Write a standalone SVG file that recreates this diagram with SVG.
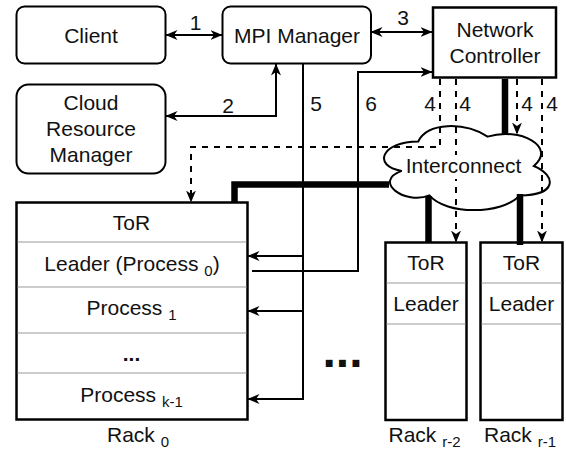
<svg xmlns="http://www.w3.org/2000/svg" width="566" height="451" viewBox="0 0 566 451">
  <style>
    text { font-family: "Liberation Sans", Arial, sans-serif; font-size: 21px; fill: #111; }
    .c { text-anchor: middle; }
    .sub { font-size: 15px; }
    .big { font-size: 48px; font-weight: bold; }
    .box { fill: #fff; stroke: #000; stroke-width: 2; }
    .rack { fill: #fff; stroke: #000; stroke-width: 2.5; }
    .div { stroke: #999; stroke-width: 1.2; fill: none; }
    .ln { fill: none; stroke: #000; stroke-width: 2; }
    .dash { fill: none; stroke: #000; stroke-width: 2; stroke-dasharray: 6 6; }
    .thick { fill: none; stroke: #000; stroke-width: 6.5; }
  </style>
  <defs>
    <marker id="arr" viewBox="0 0 12 10" refX="11.5" refY="5" markerWidth="12" markerHeight="10" markerUnits="userSpaceOnUse" orient="auto-start-reverse">
      <path d="M0,0 L12,5 L0,10 L3.5,5 Z" fill="#000"/>
    </marker>
  </defs>

  <rect width="566" height="451" fill="#fff"/>

  <!-- nodes -->
  <g id="client">
    <rect class="box" x="16.5" y="6.5" width="149" height="57" rx="8"/>
    <text class="c" x="91" y="43">Client</text>
  </g>
  <g id="mpi-manager">
    <rect class="box" x="222.5" y="6.5" width="148.5" height="57" rx="8"/>
    <text class="c" x="297" y="43">MPI Manager</text>
  </g>
  <g id="cloud-resource-manager">
    <rect class="box" x="16.5" y="84.5" width="149" height="89" rx="12"/>
    <text class="c" x="91" y="110">Cloud</text>
    <text class="c" x="91" y="136">Resource</text>
    <text class="c" x="91" y="162">Manager</text>
  </g>
  <g id="network-controller">
    <rect x="433" y="7.5" width="123" height="70" fill="#fff" stroke="#000" stroke-width="2.5"/>
    <text class="c" x="495" y="37">Network</text>
    <text class="c" x="495" y="63">Controller</text>
  </g>

  <g id="interconnect">
    <path d="M418.25,141.5 C381.25,141.5 372,166 401.6,170.9 C372,181.7 405.3,205.2 429.35,195.4 C446,215 501.5,215 520,195.4 C557,195.4 557,175.8 533.9,166 C557,146.4 520,126.8 487.6,136.6 C464.5,121.9 427.5,121.9 418.25,141.5 Z" fill="#fff" stroke="#000" stroke-width="2"/>
  </g>

  <g id="rack-0">
    <rect class="rack" x="16.5" y="202.5" width="231" height="217"/>
    <path class="div" d="M17.5,242 H246.5 M17.5,287 H246.5 M17.5,333 H246.5 M17.5,373 H246.5"/>
    <text class="c" x="131.5" y="230">ToR</text>
    <text class="c" x="132" y="271">Leader (Process <tspan class="sub" dy="5">0</tspan><tspan dy="-5">)</tspan></text>
    <text class="c" x="131.5" y="315">Process <tspan class="sub" dy="5">1</tspan></text>
    <text class="c" x="131.5" y="361" font-weight="bold">...</text>
    <text class="c" x="131.5" y="402">Process <tspan class="sub" dy="5">k-1</tspan></text>
    <text class="c" x="138" y="442">Rack <tspan class="sub" dy="5">0</tspan></text>
  </g>

  <g id="rack-r-2">
    <rect class="rack" x="385.5" y="242.5" width="81" height="177.5"/>
    <path class="div" d="M386.5,283 H465.5 M386.5,324 H465.5"/>
    <text class="c" x="426" y="270">ToR</text>
    <text class="c" x="426" y="311">Leader</text>
    <text class="c" x="424.5" y="442">Rack <tspan class="sub" dy="5">r-2</tspan></text>
  </g>

  <g id="rack-r-1">
    <rect class="rack" x="480.5" y="242.5" width="82" height="177.5"/>
    <path class="div" d="M481.5,283 H561.5 M481.5,324 H561.5"/>
    <text class="c" x="521.5" y="270">ToR</text>
    <text class="c" x="521.5" y="311">Leader</text>
    <text class="c" x="520" y="442">Rack <tspan class="sub" dy="5">r-1</tspan></text>
  </g>

  <g id="more-racks">
    <text class="c big" x="342.5" y="367">...</text>
  </g>

  <!-- connectors -->
  <g id="connectors">
    <path class="ln" d="M166,35 H222" marker-start="url(#arr)" marker-end="url(#arr)"/>
    <path class="ln" d="M371,32 H432" marker-start="url(#arr)" marker-end="url(#arr)"/>
    <path class="ln" d="M276,64 V116 H166" marker-start="url(#arr)" marker-end="url(#arr)"/>
    <path class="ln" d="M303,64 V399 H248" marker-end="url(#arr)"/>
    <path class="ln" d="M303,256 H248" marker-end="url(#arr)"/>
    <path class="ln" d="M303,311 H248" marker-end="url(#arr)"/>
    <path class="ln" d="M252,271 H358 V72 H432" marker-end="url(#arr)"/>

    <path class="dash" d="M440,79 V147 H191 V202" marker-end="url(#arr)"/>
    <path class="dash" d="M456,79 V242" marker-end="url(#arr)"/>
    <path class="dash" d="M517,79 V134" marker-end="url(#arr)"/>
    <path class="dash" d="M542,79 V242" marker-end="url(#arr)"/>

    <path class="thick" d="M234.5,202 V184.5 H389"/>
    <path class="thick" d="M505,79 V134"/>
    <path class="thick" d="M428.5,196 V242"/>
    <path class="thick" d="M520,194 V245"/>
  </g>

  <g id="connector-labels">
    <text class="c" x="195.5" y="30">1</text>
    <text class="c" x="228" y="113">2</text>
    <text class="c" x="403" y="25">3</text>
    <text class="c" x="316" y="111">5</text>
    <text class="c" x="371" y="111">6</text>
    <text class="c" x="430" y="111">4</text>
    <text class="c" x="465" y="111">4</text>
    <text class="c" x="527" y="111">4</text>
    <text class="c" x="552" y="111">4</text>
    <rect x="402" y="155" width="124" height="24" fill="#fff"/>
    <text class="c" x="463.5" y="173">Interconnect</text>
  </g>
</svg>
